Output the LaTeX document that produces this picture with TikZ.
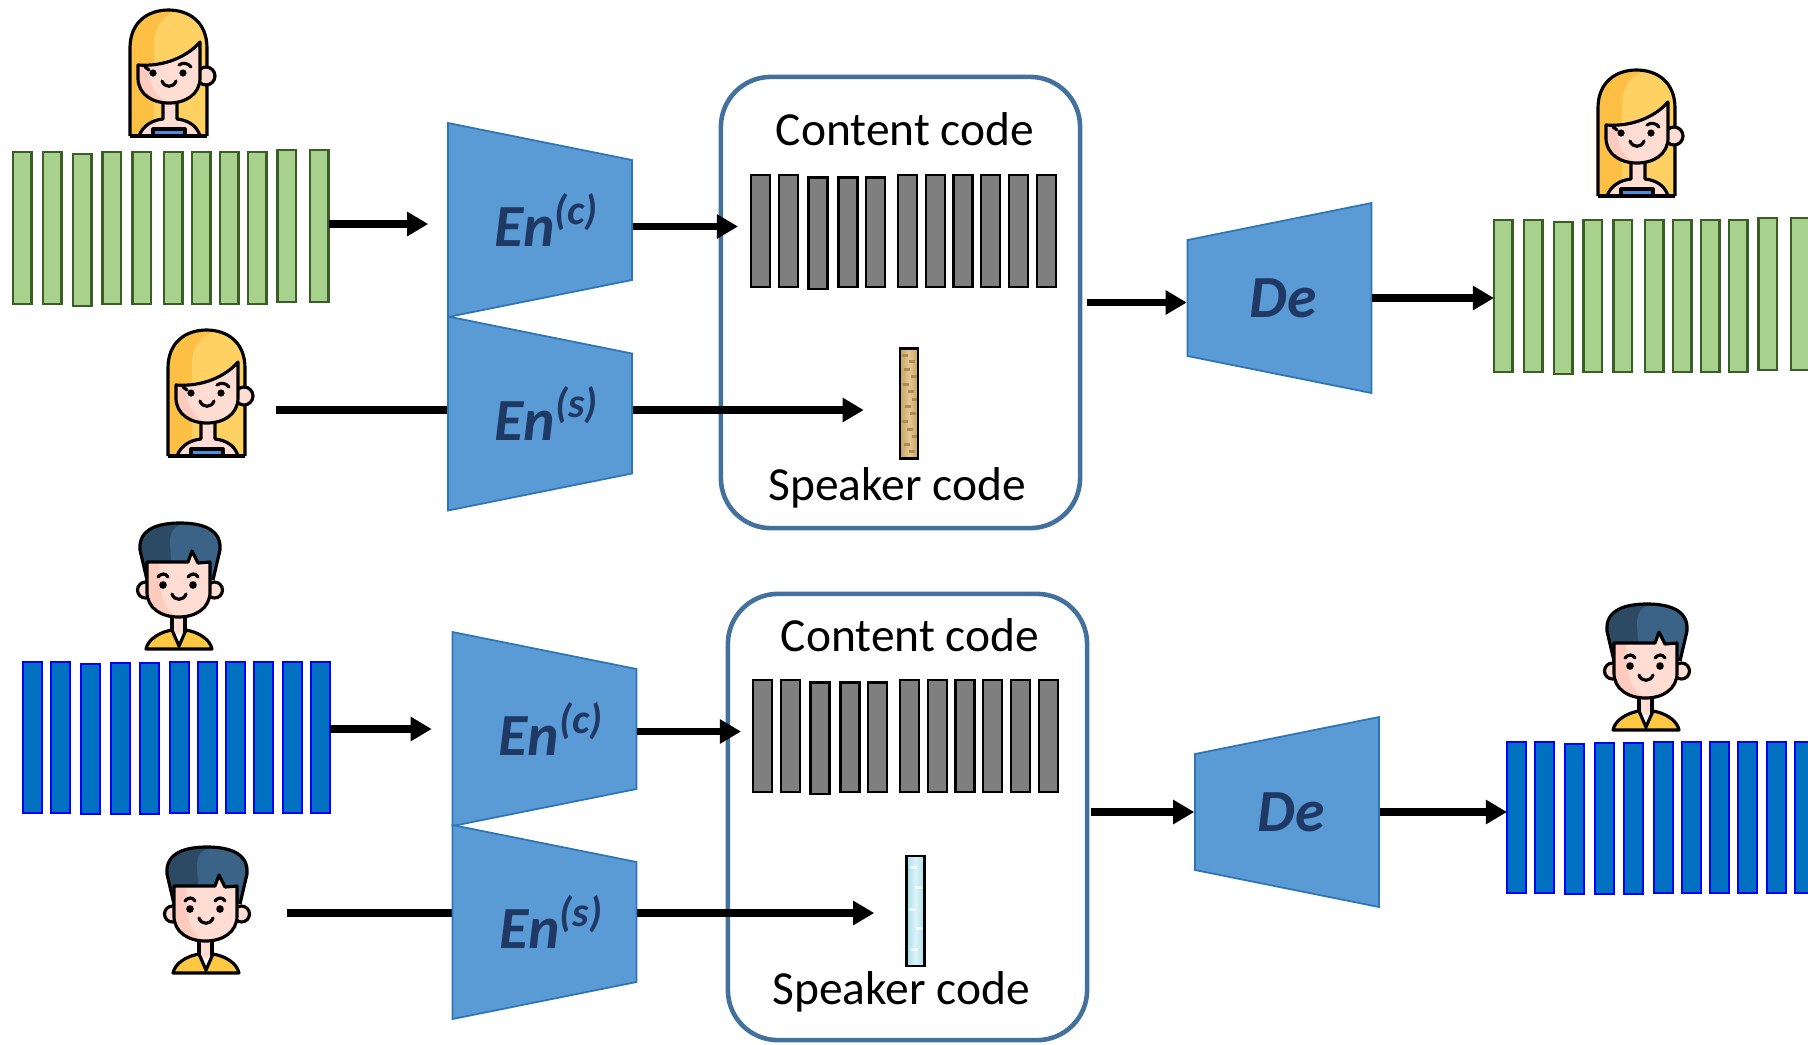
\documentclass[tikz,border=0pt]{standalone}
\usepackage{fontspec}
\setmainfont{Carlito}
\usetikzlibrary{arrows.meta}

\definecolor{frameGfill}{HTML}{A9D18E}
\definecolor{frameGline}{HTML}{3B5E26}
\definecolor{frameBfill}{HTML}{0070C0}
\definecolor{frameBline}{HTML}{0000FF}
\definecolor{frameCfill}{HTML}{7F7F7F}
\definecolor{coderfill}{HTML}{5B9BD5}
\definecolor{coderline}{HTML}{2E75B6}
\definecolor{codernavy}{HTML}{1F3864}
\definecolor{boxline}{HTML}{41719C}
\definecolor{hairY}{HTML}{FDC044}
\definecolor{hairYlt}{HTML}{FFD062}
\definecolor{hairB}{HTML}{2C4A64}
\definecolor{hairBlt}{HTML}{3A6387}
\definecolor{skin}{HTML}{FFDDD3}
\definecolor{skindk}{HTML}{FFCBBE}
\definecolor{topB}{HTML}{4A8FE0}
\definecolor{shirtY}{HTML}{FFC843}
\definecolor{sand}{HTML}{E4C88E}
\definecolor{sanddk}{HTML}{B08A50}
\definecolor{ice}{HTML}{A9DCE8}
\definecolor{icelt}{HTML}{DDF3F8}

\tikzset{
  arr/.style={line width=2.2pt, -{Triangle[length=6pt,width=6.6pt]}},
  frameG/.style={fill=frameGfill, draw=frameGline, line width=0.6pt},
  frameB/.style={fill=frameBfill, draw=frameBline, line width=0.6pt},
  frameC/.style={fill=frameCfill, draw=black, line width=0.7pt},
  coder/.style={fill=coderfill, draw=coderline, line width=0.5pt},
  codertext/.style={font=\fontsize{17}{20}\selectfont\bfseries\itshape, text=codernavy,
    inner sep=0pt, minimum width=1.84cm, minimum height=1.94cm},
  codebox/.style={draw=boxline, line width=1.3pt, rounded corners=0.5cm, minimum width=3.59cm},
  codename/.style={font=\fontsize{13.5}{16}\selectfont, inner sep=0pt},
  spk/.style={draw=black, line width=0.7pt, inner sep=0pt, minimum width=0.18cm, minimum height=1.1cm},
  sandy/.style={left color=sanddk!60!sand, right color=sanddk!60!sand, middle color=sand,
    path picture={
      \foreach \u/\v in {2/6,9/12,4/20,11/27,3/35,8/42,12/50,5/57,10/64,2/72,7/80,12/87,4/95,9/102}
        \fill[sanddk] ([shift={(\u,\v)}]path picture bounding box.north west) rectangle ++(6,2.5);}},
  icy/.style={left color=ice, right color=ice, middle color=icelt,
    path picture={
      \foreach \u/\v in {3/10,8/30,2/52,9/71,4/92}
        \fill[white, opacity=0.6] ([shift={(\u,\v)}]path picture bounding box.north west) rectangle ++(7,3);}},
  avline/.style={draw=black, line width=0.9pt, line join=round},
  % one row of frames each
  greenframes/.pic={
    \foreach \x/\t/\b in {0/0/152, 30/0/152, 60/2/154, 89.5/0/152, 119.5/0/152, 151/0/152,
                          179/0/152, 207/0/152, 235/0/152, 264.5/-2/150, 297/-2/150}
      \draw[frameG] (\x,\t) rectangle (\x+18.5,\b);
    \coordinate (-w) at (0,72);
    \coordinate (-e) at (315.5,72);
  },
  blueframes/.pic={
    \foreach \x/\t/\b in {0/0/150.6, 27.7/0/150.6, 57.7/2.3/152.3, 87.7/0.6/152.3, 117.4/0.6/152.3,
                          147.4/0/150.6, 175/0/150.6, 202.7/0/150.6, 230.7/0/150.6, 260.4/0/150.6, 288.4/0/150.6}
      \draw[frameB] (\x,\t) rectangle (\x+19,\b);
    \coordinate (-w) at (0,67);
    \coordinate (-e) at (307.4,67);
  },
  codeframes/.pic={
    \foreach \x/\t/\b in {0/0/112, 28/0/112, 57.6/2.3/114, 87.6/2.3/112, 115/2.3/112, 147/0/112,
                          175/0/112, 202.6/0/112, 230/0/112, 258/0/112, 286/0/112}
      \draw[frameC] (\x,\t) rectangle (\x+19,\b);
    \coordinate (-w) at (0,51.5);
  },
  enc/.pic={
    \draw[coder] (-92,-97) -- (92,-60) -- (92,60) -- (-92,97) -- cycle;
    \node[codertext] (-n) at (0,0) {\hspace*{0.14cm}\tikzpictext};
  },
  dec/.pic={
    \draw[coder] (-92,-58) -- (92,-95) -- (92,95) -- (-92,58) -- cycle;
    \node[codertext] (-n) at (0,0) {\hspace*{0.08cm}\tikzpictext};
  },
  % avatars, origin at the top left
  girl/.pic={
    \fill[hairY] (0,126) -- (0,38) .. controls (0,12) and (18,0) .. (38.5,0)
      .. controls (59,0) and (77,12) .. (77,38) -- (77,126) -- cycle;
    \fill[hairYlt] (24,126) -- (24,34) .. controls (24,14) and (36,3) .. (48,2)
      .. controls (64,5) and (75,18) .. (75,38) -- (75,126) -- cycle;
    \draw[avline] (0,126) -- (0,38) .. controls (0,12) and (18,0) .. (38.5,0)
      .. controls (59,0) and (77,12) .. (77,38) -- (77,126);
    \filldraw[avline, fill=skin] (76,66) circle (9);
    \fill[skin] (9,126) .. controls (13,115) and (23,110) .. (33,109) -- (33,88) -- (47,88)
      -- (47,109) .. controls (57,110) and (67,115) .. (70,126) -- cycle;
    \draw[avline] (9,126) .. controls (13,115) and (23,110) .. (33,109) -- (33,90);
    \draw[avline] (70,126) .. controls (67,115) and (57,110) .. (47,109) -- (47,90);
    \filldraw[avline, fill=topB] (23,119) rectangle (55,126);
    \fill[skin] (8,55) .. controls (35,57) and (58,46) .. (70,32) -- (70,68)
      .. controls (70,84) and (56,93) .. (39,93) .. controls (22,93) and (8,84) .. (8,68) -- cycle;
    \fill[skindk] (8,56) -- (8,68) .. controls (8,84) and (22,93) .. (39,93)
      .. controls (27,88) and (19,78) .. (19,57) -- cycle;
    \draw[avline] (8,55) .. controls (35,57) and (58,46) .. (70,32) -- (70,68)
      .. controls (70,84) and (56,93) .. (39,93) .. controls (22,93) and (8,84) .. (8,68) -- cycle;
    \fill (23,63) circle (3.6);
    \fill (53,63) circle (3.6);
    \draw[avline, line cap=round] (19,60) -- (15,57);
    \draw[avline, line cap=round] (49,55) .. controls (53,52) and (58,53) .. (61,57);
    \draw[avline, line cap=round] (32,71) .. controls (34,78) and (44,78) .. (46,71);
    \draw[avline] (0,126) -- (77,126);
    \coordinate (-e) at (84,80);
  },
  boy/.pic={
    \fill[hairB] (9,58) -- (2,28) .. controls (0,6) and (22,1) .. (42,1)
      .. controls (62,1) and (84,6) .. (82,28) -- (75,58) -- cycle;
    \fill[hairBlt] (34,58) -- (32,20) .. controls (32,8) and (38,3) .. (46,2.5)
      .. controls (64,3) and (81,8) .. (80,28) -- (74,58) -- cycle;
    \draw[avline] (9,58) -- (2,28) .. controls (0,6) and (22,1) .. (42,1)
      .. controls (62,1) and (84,6) .. (82,28) -- (75,58);
    \filldraw[avline, fill=skin] (7.5,68) circle (8);
    \filldraw[avline, fill=skin] (76.5,68) circle (8);
    \fill[skin] (34,90) rectangle (47,112);
    \draw[avline] (34,90) -- (34,110) (47,90) -- (47,110);
    \filldraw[avline, fill=shirtY] (8,127) .. controls (10,117) and (22,110) .. (34,108) -- (41,124)
      -- (48,108) .. controls (60,110) and (72,117) .. (74,127) -- cycle;
    \fill[skin] (9,40) -- (50,40) -- (54,29) -- (60,41) -- (72,40) -- (72,70)
      .. controls (72,86) and (58,95) .. (40.5,95) .. controls (23,95) and (9,86) .. (9,70) -- cycle;
    \fill[skindk] (9,41) -- (9,70) .. controls (9,86) and (23,95) .. (40.5,95)
      .. controls (29,90) and (21,80) .. (21,41) -- cycle;
    \draw[avline] (9,40) -- (50,40) -- (54,29) -- (60,41) -- (72,40) -- (72,70)
      .. controls (72,86) and (58,95) .. (40.5,95) .. controls (23,95) and (9,86) .. (9,70) -- cycle;
    \fill (25,63) circle (3.8);
    \fill (55,63) circle (3.8);
    \draw[avline, line cap=round] (20,55) .. controls (23,51) and (28,51) .. (30,55);
    \draw[avline, line cap=round] (50,55) .. controls (53,51) and (58,51) .. (60,55);
    \draw[avline, line cap=round] (34,72) .. controls (36,79) and (46,79) .. (48,72);
    \coordinate (-e) at (84,67);
  },
}

\begin{document}
\begin{tikzpicture}[x=0.01cm, y=-0.01cm]
  \useasboundingbox (0,0) rectangle (1808,1044);

  % speakers
  \pic (girlA) at (130,10) {girl};
  \pic (girlB) at (168,330) {girl};
  \pic (girlC) at (1598,70) {girl};
  \pic (boyA) at (138,522) {boy};
  \pic (boyB) at (165,846) {boy};
  \pic (boyC) at (1605,603) {boy};

  % input and converted frames
  \pic (inA) at (13,152) {greenframes};
  \pic (outA) at (1494,220) {greenframes};
  \pic (inB) at (23,662) {blueframes};
  \pic (outB) at (1507,742) {blueframes};

  % latent codes
  \node[codebox, minimum height=4.51cm] (boxA) at (900.5,302.5) {};
  \node[codebox, minimum height=4.46cm] (boxB) at (907.5,817) {};
  \node[codename] (ccA) at (905,129) {Content code};
  \node[codename] (scA) at (897,488) {Speaker code};
  \node[codename] (ccB) at (910,635) {Content code};
  \node[codename] (scB) at (901,992) {Speaker code};
  \pic (codeA) at (751,175) {codeframes};
  \pic (codeB) at (753,680) {codeframes};
  \node[spk, sandy] (spkA) at (909,403.5) {};
  \node[spk, icy] (spkB) at (915.5,911) {};

  % speaker paths go under the encoders
  \draw[arr, shorten <=0.24cm, shorten >=0.35cm] (girlB-e) -- (girlB-e -| spkA.west);
  \draw[arr, shorten <=0.38cm, shorten >=0.31cm] (boyB-e) -- (boyB-e -| spkB.west);

  \pic[pic text={En\textsuperscript{(c)}}] (encA) at (540,220) {enc};
  \pic[pic text={En\textsuperscript{(s)}}] (sencA) at (540,413.5) {enc};
  \pic[pic text={En\textsuperscript{(c)}}] (encB) at (544.5,729) {enc};
  \pic[pic text={En\textsuperscript{(s)}}] (sencB) at (544.5,922) {enc};
  \pic[pic text=De] (decA) at (1279.5,298) {dec};
  \pic[pic text=De] (decB) at (1287,812) {dec};

  \draw[arr, shorten >=0.19cm] (inA-e) -- (inA-e -| encA-n.west);
  \draw[arr, shorten >=0.13cm] (codeA-w -| encA-n.east) -- (codeA-w);
  \draw[arr, shorten <=0.05cm] (boxA.east) -- (boxA.east -| decA-n.west);
  \draw[arr] (decA-n.east) -- (decA-n.east -| outA-w);

  \draw[arr, shorten >=0.2cm] (inB-e) -- (inB-e -| encB-n.west);
  \draw[arr, shorten >=0.12cm] (codeB-w -| encB-n.east) -- (codeB-w);
  \draw[arr, shorten <=0.02cm] (boxB.east |- decB-n) -- (decB-n.west);
  \draw[arr] (decB-n.east) -- (decB-n.east -| outB-w);
\end{tikzpicture}
\end{document}
